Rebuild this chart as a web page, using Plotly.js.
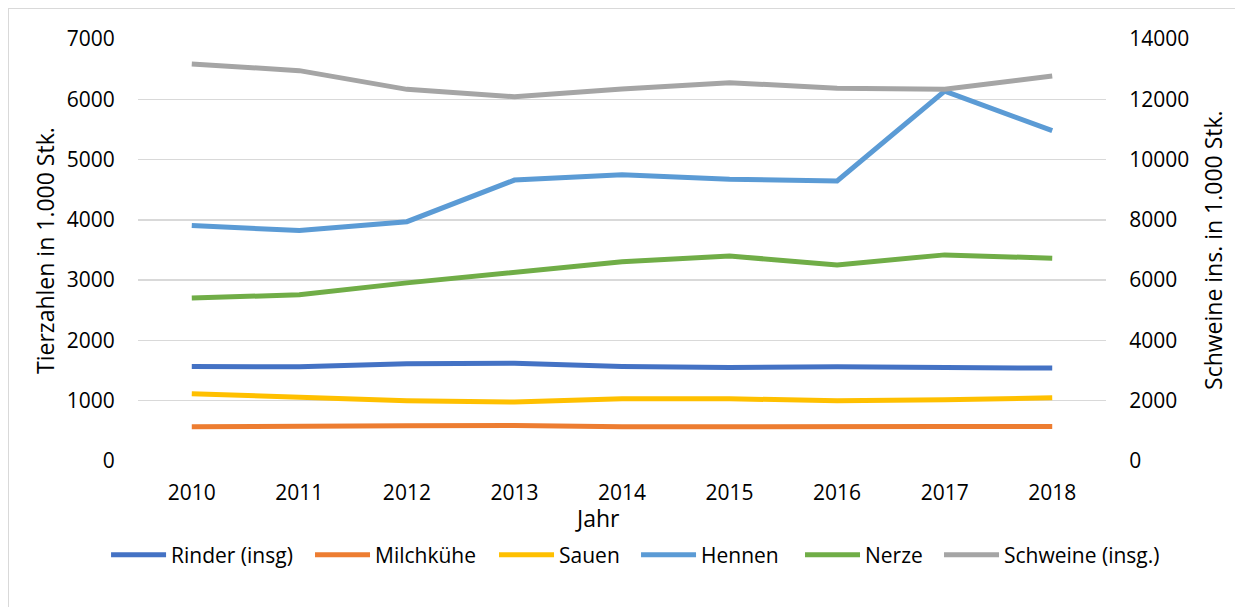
<!DOCTYPE html>
<html><head><meta charset="utf-8">
<script src="https://cdn.plot.ly/plotly-3.0.1.min.js"></script>
<style>
html,body{margin:0;padding:0;background:#fff;overflow:hidden;}
#frame{position:absolute;left:8px;top:8px;width:1240px;height:620px;border:1.5px solid #d9d9d9;box-sizing:border-box;}
#chart{position:absolute;left:0;top:0;width:1235px;height:607px;}
</style></head>
<body>
<div id="frame"></div>
<div id="chart"></div>
<script>
const years = ['2010','2011','2012','2013','2014','2015','2016','2017','2018'];
const rinder = [1568,1563,1612,1622,1568,1552,1563,1552,1541];
const milchkuehe = [568,568,585,590,568,568,577,573,573];
const sauen = [1115,1066,1000,978,1032,1032,1000,1016,1049];
const hennen = [3905,3822,3970,4660,4750,4672,4645,6137,5479];
const nerze = [2705,2756,2955,3137,3306,3400,3253,3419,3364];
const schweine = [13170,12950,12330,12085,12340,12550,12370,12330,12770];
const seriesNames = ['Rinder (insg)','Milchkühe','Sauen','Hennen','Nerze','Schweine (insg.)'];
const colors = ['#4472C4','#ED7D31','#FFC000','#5B9BD5','#70AD47','#A5A5A5'];
const xTitle = 'Jahr';
const yTitle = 'Tierzahlen in 1.000 Stk.';
const y2Title = 'Schweine ins. in 1.000 Stk.';

const legendIds = ['legend','legend2','legend3','legend4','legend5','legend6'];
const legendX = [-0.033, 0.1777, 0.3678, 0.5145, 0.6839, 0.8275];

const leftData = [rinder, milchkuehe, sauen, hennen, nerze];
const traces = leftData.map((d,i)=>({
  x: years, y: d, name: seriesNames[i], type:'scatter', mode:'lines',
  line:{color:colors[i], width:5}, yaxis:'y', legend: legendIds[i]
}));
traces.push({x: years, y: schweine, name: seriesNames[5], type:'scatter', mode:'lines',
  line:{color:colors[5], width:5}, yaxis:'y2', legend: legendIds[5]});

const fam = '"Open Sans", sans-serif';
const tickFont = {family:fam, size:21, color:'#000'};
const titleFont = {family:fam, size:23, color:'#000'};
const layout = {
  width:1235, height:607,
  margin:{l:138, r:129, t:39, b:146, autoexpand:false},
  paper_bgcolor:'rgba(0,0,0,0)', plot_bgcolor:'rgba(0,0,0,0)',
  font: tickFont,
  showlegend:true,
  xaxis:{type:'category', range:[-0.5,8.5], showgrid:false, zeroline:false, showline:false,
         ticks:'outside', ticklen:13, tickcolor:'rgba(0,0,0,0)', tickfont:tickFont},
  yaxis:{range:[0,7000], dtick:1000, tick0:0, showgrid:true, gridcolor:'#d9d9d9', gridwidth:1.5,
         zeroline:false, showline:false, ticks:'outside', ticklen:18, tickcolor:'rgba(0,0,0,0)',
         tickformat:'d', tickfont:tickFont},
  yaxis2:{range:[0,14000], dtick:2000, tick0:0, overlaying:'y', side:'right', showgrid:false,
          zeroline:false, showline:false, ticks:'outside', ticklen:18, tickcolor:'rgba(0,0,0,0)',
          tickformat:'d', tickfont:tickFont},
  annotations:[
    {text:xTitle, xref:'paper', yref:'paper', x:0.475, y:-0.135, xanchor:'center', yanchor:'middle',
     showarrow:false, font:titleFont},
    {text:yTitle, xref:'paper', yref:'paper', x:-0.096, y:0.498, xanchor:'center', yanchor:'middle',
     textangle:-90, showarrow:false, font:titleFont},
    {text:y2Title, xref:'paper', yref:'paper', x:1.1105, y:0.5, xanchor:'center', yanchor:'middle',
     textangle:-90, showarrow:false, font:titleFont}
  ]
};
legendIds.forEach((id,i)=>{
  layout[id] = {orientation:'h', x:legendX[i], xanchor:'left', y:-0.223, yanchor:'middle',
    font:tickFont, itemwidth:55, bgcolor:'rgba(0,0,0,0)'};
});
Plotly.newPlot('chart', traces, layout, {displayModeBar:false, staticPlot:true});
</script>
</body></html>
